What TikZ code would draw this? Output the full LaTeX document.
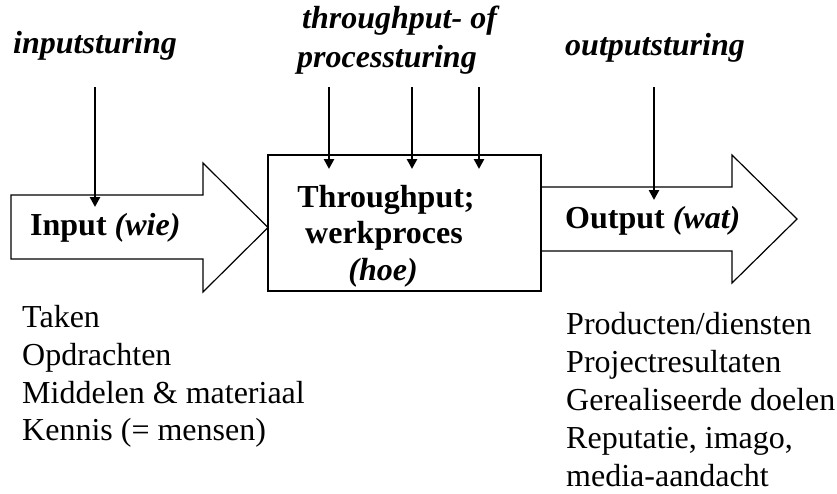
\documentclass[tikz,border=0pt]{standalone}
\usepackage{fontspec}
\setmainfont{Liberation Serif}
\usetikzlibrary{arrows.meta}
\begin{document}
\begin{tikzpicture}[x=1pt,y=-1pt,
  big/.style={font=\fontsize{32}{38}\selectfont, inner sep=0pt, anchor=base west},
  lbl/.style={big, font=\fontsize{32}{38}\selectfont\bfseries\itshape},
  bold/.style={big, font=\fontsize{32}{38}\selectfont\bfseries},
  ctl/.style={line width=2.6pt, -{Triangle[width=10pt,length=10pt]}},
  outline/.style={draw, line width=1.2pt, line join=miter}]
\useasboundingbox (0,0) rectangle (837,493);

% left arrow
\draw[outline] (11,195) -- (203,195) -- (203,163) -- (268,227.5) -- (203,292) -- (203,259) -- (11,259) -- cycle;
% box
\node[outline, minimum width=273pt, minimum height=136pt, inner sep=0pt] (box) at (404.5,223) {};
% right arrow
\draw[outline] (541,187) -- (732,187) -- (732,155) -- (797,219) -- (732,283) -- (732,251) -- (541,251);

% labels on shapes
\node[bold] (in) at (30,235) {Input \textit{(wie)}};
\node[bold, anchor=base] (t1) at (386,207) {Throughput;};
\node[bold, anchor=base] (t2) at (384,243) {werkproces};
\node[lbl, anchor=base] (t3) at (383,280) {(hoe)};
\node[bold] (out) at (565,228) {Output \textit{(wat)}};

% top labels
\node[lbl] (li) at (13,53) {inputsturing};
\node[lbl] (lt1) at (302,28) {throughput- of};
\node[lbl] (lt2) at (297,67) {processturing};
\node[lbl] (lo) at (565,55) {outputsturing};

% control arrows
\coordinate (a1s) at (95,87);  \coordinate (a1e) at (95,207);
\coordinate (a2s) at (329,87); \coordinate (a2e) at (329,169);
\coordinate (a3s) at (412,87); \coordinate (a3e) at (412,169);
\coordinate (a4s) at (479,87); \coordinate (a4e) at (479,169);
\coordinate (a5s) at (654,87); \coordinate (a5e) at (654,200);
\draw[ctl] (a1s) -- (a1e);
\draw[ctl] (a2s) -- (a2e);
\draw[ctl] (a3s) -- (a3e);
\draw[ctl] (a4s) -- (a4e);
\draw[ctl] (a5s) -- (a5e);

% left list
\node[big] (l1) at (22,327) {Taken};
\node[big] (l2) at (22,365) {Opdrachten};
\node[big] (l3) at (22,403) {Middelen \& materiaal};
\node[big] (l4) at (22,440) {Kennis (= mensen)};

% right list
\node[big] (r1) at (566,334) {Producten/diensten};
\node[big] (r2) at (566,372) {Projectresultaten};
\node[big] (r3) at (566,410) {Gerealiseerde doelen};
\node[big] (r4) at (566,448) {Reputatie, imago,};
\node[big] (r5) at (566,486) {media-aandacht};
\end{tikzpicture}
\end{document}
